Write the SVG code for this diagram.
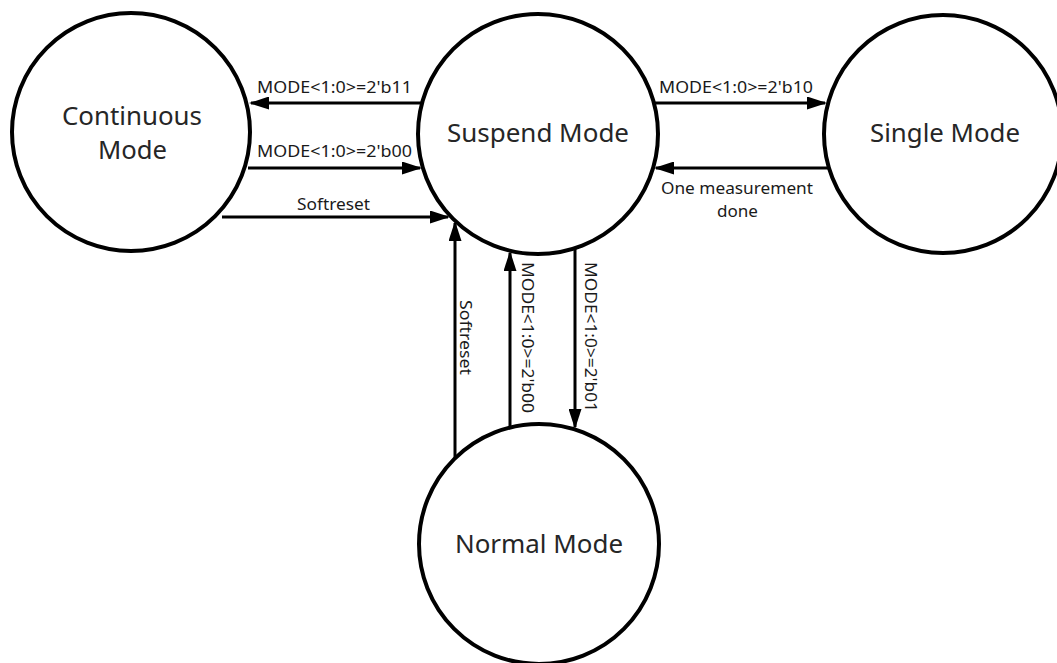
<svg xmlns="http://www.w3.org/2000/svg" width="1057" height="663" viewBox="0 0 1057 663">
<style>
.node{fill:#ffffff;stroke:#000000;stroke-width:4}
.nl{font-family:"Noto Sans","Open Sans",sans-serif;font-size:26px;fill:#262626}
.el{font-family:"Noto Sans","Open Sans",sans-serif;font-size:16px;fill:#1a1a1a}
.cn{stroke:#000000;stroke-width:3;fill:none;marker-end:url(#ah)}
</style>
<defs>
<marker id="ah" markerUnits="userSpaceOnUse" markerWidth="20" markerHeight="13" refX="18" refY="6.5" orient="auto" viewBox="0 0 20 13">
<path d="M0,0 L20,6.5 L0,13 z" fill="#000000"/>
</marker>
</defs>
<rect width="1057" height="663" fill="#ffffff"/>
<g id="continuous">
<circle class="node" cx="131" cy="132" r="119"/>
<text class="nl" x="62" y="125" textLength="140" lengthAdjust="spacingAndGlyphs">Continuous</text>
<text class="nl" x="98" y="159" textLength="69" lengthAdjust="spacingAndGlyphs">Mode</text>
</g>
<g id="suspend">
<circle class="node" cx="538" cy="134" r="120"/>
<text class="nl" x="447" y="142" textLength="182" lengthAdjust="spacingAndGlyphs">Suspend Mode</text>
</g>
<g id="single">
<circle class="node" cx="943" cy="134" r="119"/>
<text class="nl" x="870" y="142" textLength="150" lengthAdjust="spacingAndGlyphs">Single Mode</text>
</g>
<g id="normal">
<circle class="node" cx="539" cy="544" r="120"/>
<text class="nl" x="455" y="553" textLength="168" lengthAdjust="spacingAndGlyphs">Normal Mode</text>
</g>
<g id="connectors">
<line class="cn" x1="422" y1="103" x2="251" y2="103"/>
<line class="cn" x1="248" y1="168" x2="420" y2="168"/>
<line class="cn" x1="222" y1="217" x2="448" y2="217"/>
<line class="cn" x1="654" y1="103" x2="825" y2="103"/>
<line class="cn" x1="828" y1="168" x2="656" y2="168"/>
<line class="cn" x1="455" y1="458" x2="455" y2="223"/>
<line class="cn" x1="510" y1="428" x2="510" y2="253"/>
<line class="cn" x1="575" y1="248" x2="575" y2="427"/>
<text class="el" x="257" y="93" textLength="155" lengthAdjust="spacingAndGlyphs">MODE&lt;1:0&gt;=2'b11</text>
<text class="el" x="257" y="157" textLength="155" lengthAdjust="spacingAndGlyphs">MODE&lt;1:0&gt;=2'b00</text>
<text class="el" x="297" y="210" textLength="73" lengthAdjust="spacingAndGlyphs">Softreset</text>
<text class="el" x="659" y="93" textLength="154" lengthAdjust="spacingAndGlyphs">MODE&lt;1:0&gt;=2'b10</text>
<text class="el" x="661" y="194" textLength="152" lengthAdjust="spacingAndGlyphs">One measurement</text>
<text class="el" x="717" y="217" textLength="41" lengthAdjust="spacingAndGlyphs">done</text>
<text class="el" transform="translate(460,300) rotate(90)" x="0" y="0" textLength="75" lengthAdjust="spacingAndGlyphs">Softreset</text>
<text class="el" transform="translate(522,262) rotate(90)" x="0" y="0" textLength="151" lengthAdjust="spacingAndGlyphs">MODE&lt;1:0&gt;=2'b00</text>
<text class="el" transform="translate(585,262) rotate(90)" x="0" y="0" textLength="150" lengthAdjust="spacingAndGlyphs">MODE&lt;1:0&gt;=2'b01</text>
</g>
</svg>
